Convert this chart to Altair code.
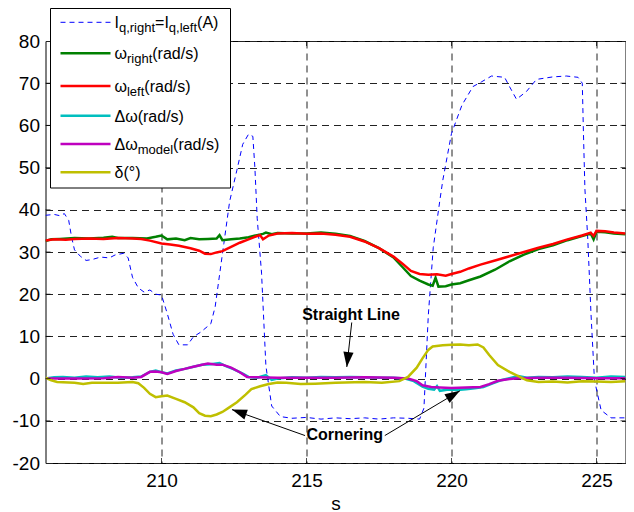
import math
import altair as alt
import pandas as pd

# ---------------- data ----------------
X_DOMAIN = [206, 226]
Y_DOMAIN = [-20, 80]
x_ticks = [210, 215, 220, 225]
y_ticks = [-20, -10, 0, 10, 20, 30, 40, 50, 60, 70, 80]

iq_t = [206.0, 206.3, 206.5, 206.65, 206.8, 206.9, 207.0, 207.2, 207.4, 207.6, 207.9, 208.2, 208.4,
        208.7, 208.85, 209.0, 209.2, 209.4, 209.6, 209.8, 210.0, 210.2, 210.4, 210.6, 210.9, 211.1,
        211.35, 211.7, 211.85, 212.0, 212.15, 212.35, 212.6, 212.8, 213.0, 213.15, 213.22, 213.3,
        213.45, 213.6, 213.8, 214.1, 214.5, 215.0, 215.5, 216.0, 216.5, 217.0, 217.5, 218.0, 218.5,
        218.9, 219.05, 219.2, 219.37, 219.6, 219.7, 220.0, 220.36, 220.74, 221.03, 221.38, 221.83,
        222.0, 222.24, 222.58, 222.93, 223.5, 223.96, 224.36, 224.51, 224.55, 224.6, 224.7, 224.81,
        224.93, 225.16, 225.5, 226.0]
iq_v = [38.7, 38.9, 38.6, 39.1, 37.5, 33.5, 30.5, 29.0, 28.0, 28.2, 28.8, 28.6, 29.3,
        29.7, 28.6, 24.0, 21.5, 20.5, 21.0, 20.0, 19.8, 15.4, 10.5, 8.0, 8.0, 9.9,
        11.0, 13.0, 17.0, 24.5, 32.0, 42.0, 49.4, 55.5, 57.9, 57.4, 50.0, 38.0,
        25.0, 3.0, -6.5, -9.0, -9.4, -9.2, -9.6, -9.3, -9.5, -9.3, -9.6, -9.3, -9.4,
        -9.6, -7.0, 15.0, 31.0, 42.3, 47.0, 58.1, 64.8, 69.2, 70.3, 71.7, 71.4,
        69.2, 66.2, 68.0, 70.9, 71.5, 71.7, 71.4, 70.0, 58.1, 45.0, 33.0, 15.4,
        -0.4, -7.5, -9.3, -9.3]

w_right_t = [206.0, 206.2, 206.5, 207.0, 207.5, 208.0, 208.3, 208.5, 209.0, 209.5, 209.8, 210.0,
             210.2, 210.5, 210.8, 211.0, 211.3, 211.6, 211.9, 212.0, 212.1, 212.4, 212.7, 213.0,
             213.3, 213.5, 213.6, 213.8, 214.0, 214.5, 215.0, 215.5, 216.0, 216.5, 217.0, 217.5,
             218.0, 218.3, 218.6, 218.9, 219.2, 219.35, 219.45, 219.55, 219.8, 220.0, 220.3, 220.6,
             221.0, 221.5, 222.0, 222.5, 223.0, 223.5, 224.0, 224.5, 224.8, 224.9, 225.0, 225.3,
             225.6, 226.0]
w_right_v = [32.6, 33.0, 33.1, 33.3, 33.2, 33.4, 33.6, 33.3, 33.3, 33.2, 33.6, 33.9,
             33.0, 33.2, 32.8, 33.3, 33.0, 33.1, 33.2, 34.0, 32.8, 33.0, 33.2, 33.5,
             34.0, 34.3, 34.6, 34.2, 34.5, 34.4, 34.4, 34.6, 34.3, 33.8, 32.6, 30.9,
             28.7, 26.5, 24.3, 23.2, 22.3, 22.0, 23.9, 21.8, 21.9, 22.3, 22.6, 23.3,
             24.2, 25.8, 27.8, 29.4, 30.7, 31.6, 32.8, 33.8, 34.4, 33.0, 34.8, 34.7,
             34.4, 34.2]

w_left_t = [206.0, 206.3, 206.7, 207.0, 207.5, 208.0, 208.5, 209.0, 209.3, 209.6, 210.0, 210.3,
            210.6, 211.0, 211.3, 211.5, 211.7, 211.9, 212.1, 212.4, 212.7, 213.0, 213.3, 213.4,
            213.5, 213.7, 214.0, 214.5, 215.0, 215.5, 216.0, 216.5, 217.0, 217.5, 218.0, 218.3,
            218.6, 218.9, 219.2, 219.5, 219.8, 220.0, 220.3, 220.6, 221.0, 221.5, 222.0, 222.5,
            223.0, 223.5, 224.0, 224.5, 224.8, 224.9, 225.0, 225.3, 225.6, 226.0]
w_left_v = [32.7, 33.0, 32.9, 33.1, 33.2, 33.1, 33.3, 33.2, 33.1, 32.7, 32.0, 31.8,
            31.5, 30.9, 30.3, 29.6, 29.5, 29.9, 30.2, 31.2, 32.2, 33.0, 33.8, 34.0,
            33.0, 33.9, 34.4, 34.5, 34.3, 34.4, 34.1, 33.6, 32.5, 30.9, 28.9, 27.3,
            25.5, 24.8, 24.6, 24.7, 24.4, 24.8, 25.3, 26.1, 27.0, 28.0, 29.0, 30.0,
            31.0, 31.9, 33.0, 33.9, 34.6, 33.8, 35.0, 34.9, 34.6, 34.4]

dw_t = [206.0, 206.3, 206.6, 207.0, 207.4, 207.8, 208.2, 208.6, 209.0, 209.3, 209.6, 209.8,
        210.0, 210.2, 210.5, 210.8, 211.1, 211.4, 211.7, 212.0, 212.2, 212.5, 212.8, 213.0,
        213.3, 213.6, 213.8, 214.0, 214.5, 215.0, 215.5, 216.0, 216.5, 217.0, 217.5, 218.0,
        218.4, 218.7, 219.0, 219.2, 219.4, 219.5, 219.6, 219.9, 220.2, 220.5, 220.8, 221.1,
        221.4, 221.7, 222.0, 222.3, 222.6, 223.0, 223.5, 224.0, 224.5, 225.0, 225.5, 226.0]
dw_v = [0.0, 0.3, 0.4, 0.2, 0.5, 0.3, 0.5, 0.2, 0.3, 0.5, 1.6, 1.9,
        1.5, 1.2, 1.9, 2.3, 2.8, 3.3, 3.4, 3.7, 3.0, 2.2, 1.2, 0.4,
        0.2, 0.8, -0.3, 0.0, 0.3, 0.2, 0.4, 0.3, 0.4, 0.3, 0.2, 0.2,
        0.0, -0.6, -1.9, -2.4, -2.6, -1.8, -2.9, -2.6, -2.7, -2.5, -2.3, -2.0,
        -1.2, -0.4, 0.1, 0.6, 0.2, 0.4, 0.3, 0.5, 0.4, 0.2, 0.5, 0.4]

dw_model_t = [206.0, 207.0, 208.0, 208.5, 209.0, 209.3, 209.6, 209.8, 210.0, 210.2, 210.5, 210.8,
              211.1, 211.4, 211.6, 211.9, 212.1, 212.4, 212.7, 212.95, 213.3, 214.0, 215.0, 216.0,
              217.0, 218.0, 218.5, 218.8, 219.0, 219.3, 219.6, 220.0, 220.5, 221.0, 221.3, 221.6,
              222.0, 222.3, 223.0, 224.0, 225.0, 226.0]
dw_model_v = [0.0, 0.0, 0.1, 0.4, 0.2, 0.4, 1.6, 1.7, 1.5, 1.1, 1.8, 2.3,
              2.8, 3.3, 3.6, 3.3, 3.3, 2.6, 1.5, 0.4, 0.3, 0.2, 0.2, 0.2,
              0.3, 0.2, 0.0, -0.6, -1.6, -2.0, -2.1, -2.2, -2.1, -2.0, -1.3, -0.5,
              -0.1, 0.1, 0.2, 0.2, 0.1, 0.1]

delta_t = [206.0, 206.2, 206.4, 207.0, 207.3, 207.6, 208.0, 208.5, 209.0, 209.2, 209.4, 209.6,
           209.8, 210.0, 210.2, 210.5, 210.8, 211.1, 211.3, 211.5, 211.7, 211.9, 212.1, 212.3,
           212.6, 212.9, 213.1, 213.4, 213.7, 214.0, 214.3, 214.8, 215.3, 216.0, 217.0, 217.6,
           218.2, 218.5, 218.8, 219.0, 219.2, 219.35, 219.7, 220.0, 220.3, 220.6, 220.9, 221.1,
           221.3, 221.6, 222.0, 222.3, 222.6, 223.0, 223.5, 224.0, 224.5, 225.0, 225.5, 226.0]
delta_v = [0.2, -0.4, -0.8, -1.0, -1.3, -1.0, -1.0, -1.0, -0.8, -1.1, -2.2, -3.6,
           -4.4, -4.2, -4.0, -4.8, -5.6, -6.8, -8.2, -8.8, -8.9, -8.5, -7.9, -7.0,
           -5.6, -3.8, -2.5, -1.8, -1.3, -0.9, -1.0, -1.3, -1.2, -1.0, -0.8, -1.0,
           -0.6, 0.4, 2.6, 4.8, 6.8, 7.6, 7.9, 8.0, 8.1, 7.9, 8.1, 7.4,
           5.6, 3.2, 1.6, 0.6, -0.4, -0.8, -0.7, -0.9, -0.6, -0.7, -0.8, -0.6]

# annotations (data coordinates)
note_text = ["Straight Line", "Cornering"]
note_x = [214.85, 215.0]
note_y = [14.0, -14.5]
arrow_x0 = [216.56, 214.95, 217.70]
arrow_y0 = [13.3, -13.5, -13.5]
arrow_x1 = [216.39, 212.43, 220.29]
arrow_y1 = [2.75, -7.35, -2.9]

# ---------------- layout ----------------
W, H = 580, 422
FONT = "Liberation Sans"
sx = W / (X_DOMAIN[1] - X_DOMAIN[0])
sy = H / (Y_DOMAIN[1] - Y_DOMAIN[0])

xscale = alt.Scale(domain=X_DOMAIN, nice=False, zero=False)
yscale = alt.Scale(domain=Y_DOMAIN, nice=False, zero=False)
XAX = alt.Axis(values=x_ticks, title="s")
YAX = alt.Axis(values=y_ticks, title=None)


def X(field):
    return alt.X(field, type="quantitative", scale=xscale, axis=XAX)


def Y(field):
    return alt.Y(field, type="quantitative", scale=yscale, axis=YAX)


def series(t, v, color, width, dash=None):
    df = pd.DataFrame({"t": t, "v": v})
    kw = dict(color=color, strokeWidth=width, clip=True)
    if dash:
        kw["strokeDash"] = dash
    return alt.Chart(df).mark_line(**kw).encode(x=X("t"), y=Y("v"))


layers = [
    series(iq_t, iq_v, "#0000ff", 1, dash=[5, 4]),
    series(w_right_t, w_right_v, "#008000", 2.5),
    series(w_left_t, w_left_v, "#ff0000", 2.5),
    series(dw_t, dw_v, "#00bfbf", 2.5),
    series(dw_model_t, dw_model_v, "#bf00bf", 2.5),
    series(delta_t, delta_v, "#bfbf00", 2.5),
]

# inner tick marks (MATLAB style)
xt = pd.DataFrame({"t": x_ticks})
yt = pd.DataFrame({"v": y_ticks[1:-1]})
for ypix in (2.5, H - 2.5):
    layers.append(alt.Chart(xt).mark_tick(orient="vertical", size=5, thickness=1, color="black").encode(
        x=X("t"), y=alt.value(ypix)))
for xpix in (2.5, W - 2.5):
    layers.append(alt.Chart(yt).mark_tick(orient="horizontal", size=5, thickness=1, color="black").encode(
        y=Y("v"), x=alt.value(xpix)))

# annotations
notes = pd.DataFrame({"x": note_x, "y": note_y, "txt": note_text})
layers.append(alt.Chart(notes).mark_text(align="left", baseline="alphabetic", fontSize=16,
                                         fontWeight="bold", font=FONT, color="black").encode(
    x=X("x"), y=Y("y"), text="txt:N"))

arrows = pd.DataFrame({"x0": arrow_x0, "y0": arrow_y0, "x1": arrow_x1, "y1": arrow_y1})
arrows["ang"] = [
    (math.degrees(math.atan2((b - a) * sx, (d - c) * sy)) + 360) % 360
    for a, b, c, d in zip(arrow_x0, arrow_x1, arrow_y0, arrow_y1)
]
layers.append(alt.Chart(arrows).mark_rule(color="black", strokeWidth=1).encode(
    x=X("x0"), y=Y("y0"), x2="x1:Q", y2="y1:Q"))
ARROW = "M0,0L-0.34,1L0.34,1Z"
layers.append(alt.Chart(arrows).mark_point(shape=ARROW, filled=True, color="black", opacity=1,
                                           size=900).encode(
    x=X("x1"), y=Y("y1"), angle=alt.Angle("ang:Q", scale=None)))

# ---------------- legend (drawn by hand for subscripts) ----------------
WID = {'I': .278, 'q': .556, ',': .278, 'r': .333, 'i': .222, 'g': .556, 'h': .556, 't': .278,
       '=': .584, 'l': .222, 'e': .556, 'f': .278, '(': .333, 'A': .667, ')': .333, 'a': .556,
       'd': .556, '/': .278, 's': .5, 'm': .833, 'o': .556, 'Δ': .667, 'ω': .78, 'δ': .556, '°': .4}
MAIN_FS, SUB_FS = 16, 13

legend_labels = [
    [("I", 0), ("q,right", 1), ("=", 0), ("I", 0), ("q,left", 1), ("(A)", 0)],
    [("ω", 0), ("right", 1), ("(rad/s)", 0)],
    [("ω", 0), ("left", 1), ("(rad/s)", 0)],
    [("Δω(rad/s)", 0)],
    [("Δω", 0), ("model", 1), ("(rad/s)", 0)],
    [("δ(°)", 0)],
]
legend_colors = ["#0000ff", "#008000", "#ff0000", "#00bfbf", "#bf00bf", "#bfbf00"]
legend_rows = [-18.7, 12.3, 45, 74.7, 103, 131.3]

ONE = alt.Data(values=[{"a": 1}])
layers.append(alt.Chart(ONE).mark_rect(fill="white", stroke="black", strokeWidth=1).encode(
    x=alt.value(5), x2=alt.value(185), y=alt.value(-32.5), y2=alt.value(147)))

for i, (segs, yc, col) in enumerate(zip(legend_labels, legend_rows, legend_colors)):
    kw = dict(color=col, strokeWidth=1, strokeDash=[5, 4]) if i == 0 else dict(color=col, strokeWidth=2.5)
    layers.append(alt.Chart(ONE).mark_rule(**kw).encode(
        x=alt.value(15), x2=alt.value(65), y=alt.value(yc)))
    xp = 69.0
    for s, sub in segs:
        fs = SUB_FS if sub else MAIN_FS
        layers.append(alt.Chart(ONE).mark_text(
            text=s, fontSize=fs, align="left", baseline="alphabetic", font=FONT, color="black"
        ).encode(x=alt.value(xp), y=alt.value(yc + (9.5 if sub else 6))))
        xp += sum(WID.get(c, 0.55) for c in s) * fs

chart = alt.layer(*layers).properties(
    width=W, height=H,
    padding={"left": 3.5, "top": 0, "right": 0, "bottom": 0},
).configure(
    font=FONT, background="white",
).configure_view(
    stroke="black", strokeWidth=1,
).configure_axis(
    grid=True, gridDash=[7, 5], gridColor="#222222", gridOpacity=1, gridWidth=1,
    ticks=False, domain=False, labelFontSize=19, labelColor="black", labelFont=FONT,
    labelExpr="'' + datum.value",
    titleFontSize=19, titleFontWeight="normal", titleColor="black", titleFont=FONT,
).configure_axisX(labelPadding=8, titlePadding=4).configure_axisY(labelPadding=6)

chart.save("out.html", embed_options={"renderer": "svg", "actions": False})
